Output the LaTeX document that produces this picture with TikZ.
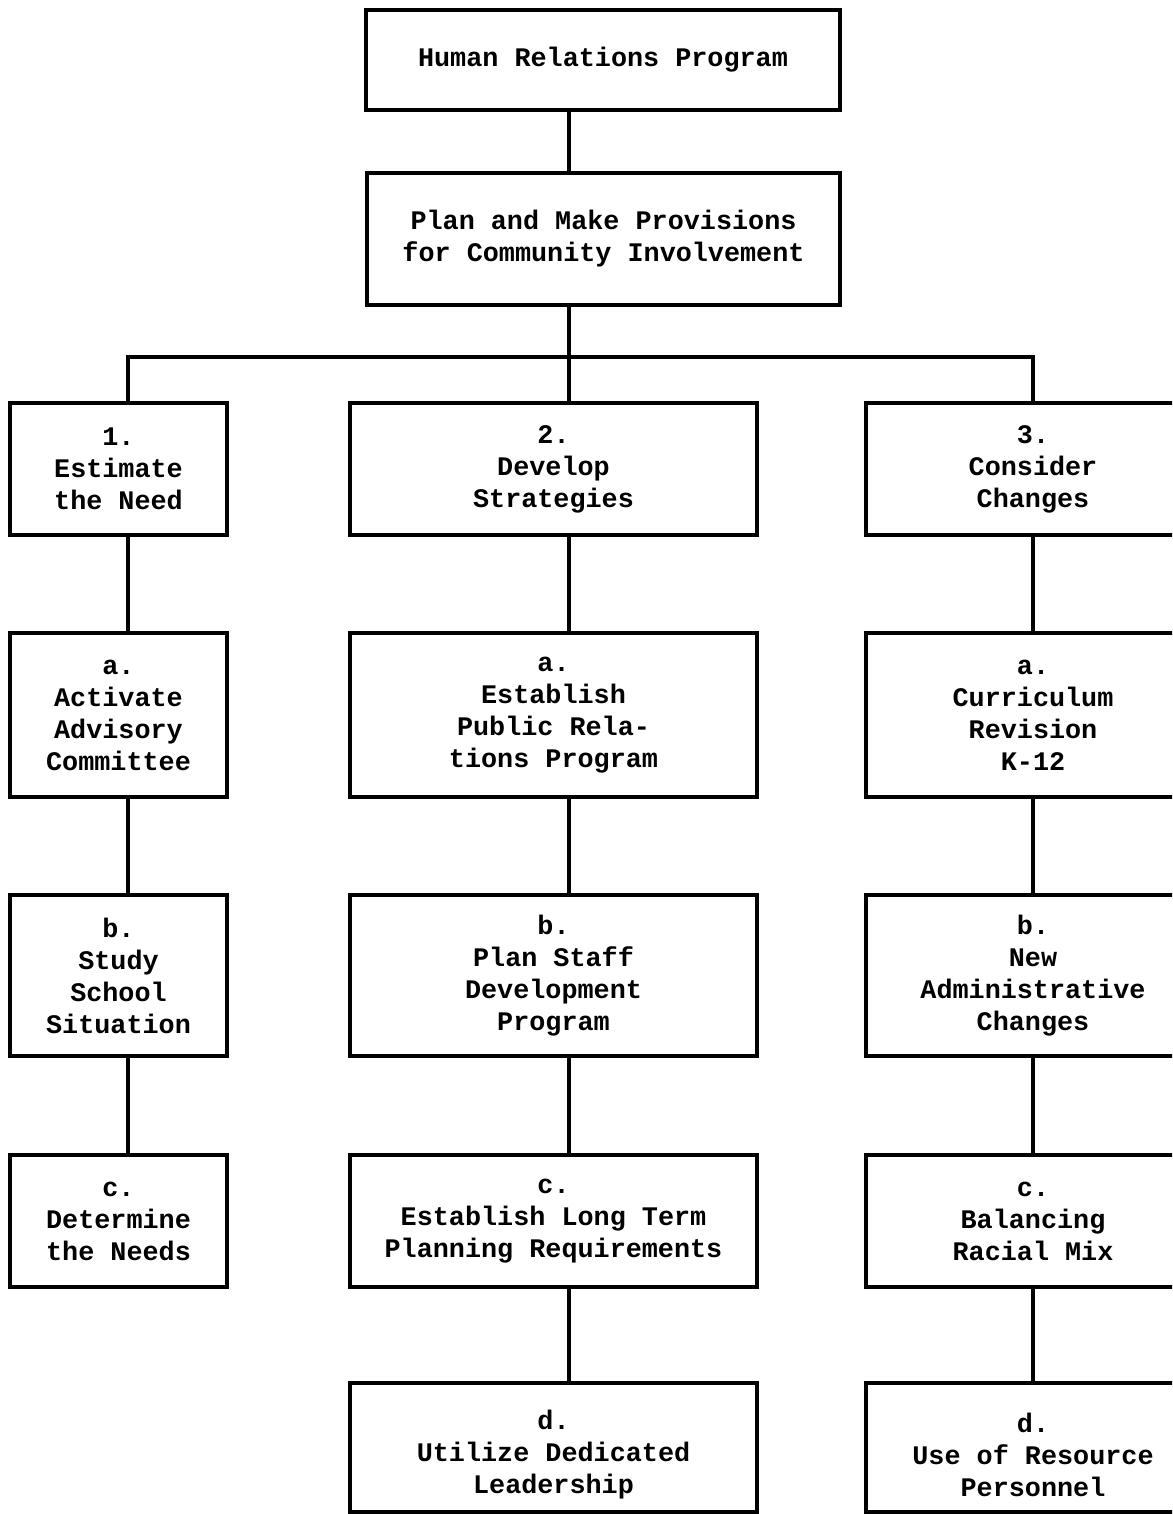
\documentclass[tikz,border=0pt]{standalone}
\usepackage{fontspec}
\setmonofont{Liberation Mono}
\begin{document}
\begin{tikzpicture}[x=1pt,y=-1pt,
  tt/.style={align=center, inner sep=0pt,
    font=\ttfamily\bfseries\fontsize{26.8}{32}\selectfont},
  box/.style={tt, draw=black, line width=3.2pt, fill=white},
  link/.style={draw=black, line width=3.2pt}]
\clip (0,0) rectangle (1172,1514);
\fill[white] (0,0) rectangle (1172,1514);
% trunk x positions
\coordinate (c1) at (128,0);
\coordinate (c2) at (569,0);
\coordinate (c3) at (1033,0);
\coordinate (bar) at (0,357);
% top boxes
\node[box, minimum width=474, minimum height=100] (hr) at (603,60) {Human Relations Program};
\node[box, minimum width=473, minimum height=132] (plan) at (603.5,239) {Plan and Make Provisions\\for Community Involvement};
% column 1
\node[box, minimum width=217, minimum height=132] (e1) at (118.5,469) {1.\\Estimate\\the Need};
\node[box, minimum width=217, minimum height=164] (e2) at (118.5,715) {a.\\Activate\\Advisory\\Committee};
\node[box, minimum width=217, minimum height=161] (e3) at (118.5,975.5) {b.\\Study\\School\\Situation};
\node[box, minimum width=217, minimum height=132] (e4) at (118.5,1221) {c.\\Determine\\the Needs};
% column 2
\node[box, minimum width=407, minimum height=132] (d1) at (553.5,469) {2.\\Develop\\Strategies};
\node[box, minimum width=407, minimum height=164] (d2) at (553.5,715) {a.\\Establish\\Public Rela-\\tions Program};
\node[box, minimum width=407, minimum height=161] (d3) at (553.5,975.5) {b.\\Plan Staff\\Development\\Program};
\node[box, minimum width=407, minimum height=132] (d4) at (553.5,1221) {c.\\Establish Long Term\\Planning Requirements};
\node[box, minimum width=407, minimum height=129] (d5) at (553.5,1447.5) {};
\node[tt, yshift=-7pt] (d5t) at (d5.center) {d.\\Utilize Dedicated\\Leadership};
% column 3
\node[box, minimum width=334, minimum height=132] (f1) at (1033,469) {3.\\Consider\\Changes};
\node[box, minimum width=334, minimum height=164] (f2) at (1033,715) {a.\\Curriculum\\Revision\\K-12};
\node[box, minimum width=334, minimum height=161] (f3) at (1033,975.5) {b.\\New\\Administrative\\Changes};
\node[box, minimum width=334, minimum height=132] (f4) at (1033,1221) {c.\\Balancing\\Racial Mix};
\node[box, minimum width=334, minimum height=129] (f5) at (1033,1447.5) {};
\node[tt, yshift=-7pt] (f5t) at (f5.center) {d.\\Use of Resource\\Personnel};
% connectors
\draw[link] (hr.south -| c2) -- (plan.north -| c2);
\draw[link] (plan.south -| c2) -- (d1.north -| c2);
\draw[link, line join=miter] (e1.north -| c1) -- (bar -| c1) -- (bar -| c3) -- (f1.north -| c3);
\draw[link] (e1.south -| c1) -- (e2.north -| c1);
\draw[link] (e2.south -| c1) -- (e3.north -| c1);
\draw[link] (e3.south -| c1) -- (e4.north -| c1);
\draw[link] (d1.south -| c2) -- (d2.north -| c2);
\draw[link] (d2.south -| c2) -- (d3.north -| c2);
\draw[link] (d3.south -| c2) -- (d4.north -| c2);
\draw[link] (d4.south -| c2) -- (d5.north -| c2);
\draw[link] (f1.south -| c3) -- (f2.north -| c3);
\draw[link] (f2.south -| c3) -- (f3.north -| c3);
\draw[link] (f3.south -| c3) -- (f4.north -| c3);
\draw[link] (f4.south -| c3) -- (f5.north -| c3);
\end{tikzpicture}
\end{document}
